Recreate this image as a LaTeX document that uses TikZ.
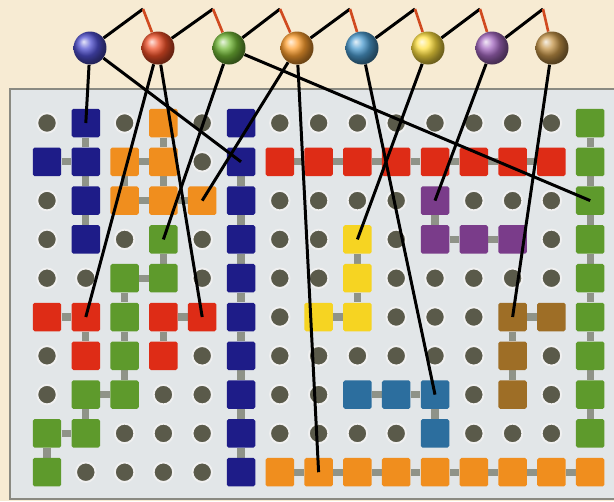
\documentclass[tikz,border=0pt]{standalone}
\usepackage{xcolor}
\usepackage{tikz}
\usetikzlibrary{calc}
\pgfdeclarelayer{bg}
\pgfdeclarelayer{front}
\pgfsetlayers{bg,main,front}

\definecolor{bgcream}{HTML}{F7EBD3}
\definecolor{panelgray}{HTML}{E2E6E8}
\definecolor{panelline}{HTML}{8A8A82}
\definecolor{dotgray}{HTML}{5A5A4A}
\definecolor{barcol}{HTML}{8F9388}
\definecolor{wirered}{HTML}{D04A20}
\definecolor{sqB}{HTML}{1E1C88}
\definecolor{sqO}{HTML}{F08E1E}
\definecolor{sqG}{HTML}{5E9A2C}
\definecolor{sqR}{HTML}{DE2C16}
\definecolor{sqY}{HTML}{F6D422}
\definecolor{sqP}{HTML}{7A3C8A}
\definecolor{sqT}{HTML}{2C6E9E}
\definecolor{sqW}{HTML}{9E6E26}

\begin{document}
\begin{tikzpicture}[
    x=0.02cm, y=-0.02cm,
    dot/.style={circle, fill=dotgray, draw=white!88!gray, line width=1.1pt, minimum size=0.39cm, inner sep=0pt},
    cell/.style={rounded corners=1pt, minimum size=0.57cm, inner sep=0pt},
    bar/.style={draw=barcol, line width=4pt},
    ball/.style={circle, minimum size=0.66cm, inner sep=0pt},
    wire/.style={draw=black, line width=1.7pt},
    link/.style={draw=wirered, line width=1.5pt},
]
\useasboundingbox (0,0) rectangle (614,501);

% Background and board
\begin{pgfonlayer}{bg}
\fill[bgcream] (0,0) rectangle (614,501);
\filldraw[fill=panelgray, draw=panelline, line width=1pt] (10,89) rectangle (620,499);
\end{pgfonlayer}

% Board cells (o = empty dot, letter = coloured square)
\foreach \row [count=\j from 0] in {
    {o,B,o,O,o,B,o,o,o,o,o,o,o,o,G},
    {B,B,O,O,o,B,R,R,R,R,R,R,R,R,G},
    {o,B,O,O,O,B,o,o,o,o,P,o,o,o,G},
    {o,B,o,G,o,B,o,o,Y,o,P,P,P,o,G},
    {o,o,G,G,o,B,o,o,Y,o,o,o,o,o,G},
    {R,R,G,R,R,B,o,Y,Y,o,o,o,W,W,G},
    {o,R,G,R,o,B,o,o,o,o,o,o,W,o,G},
    {o,G,G,o,o,B,o,o,T,T,T,o,W,o,G},
    {G,G,o,o,o,B,o,o,o,o,T,o,o,o,G},
    {G,o,o,o,o,B,O,O,O,O,O,O,O,O,O}} {
  \foreach \c [count=\i from 0] in \row {
    \if\c o
      \node[dot] (c-\i-\j) at ({47+38.8*\i},{123+38.8*\j}) {};
    \else
      \node[cell, fill=sq\c] (c-\i-\j) at ({47+38.8*\i},{123+38.8*\j}) {};
    \fi
  }
}

% Gray links between squares
\begin{pgfonlayer}{bg}
\foreach \a/\b in {1-0/1-1, 1-1/1-2, 1-2/1-3, 0-1/1-1,
    3-0/3-1, 2-1/3-1, 2-1/2-2, 3-1/3-2, 2-2/3-2, 3-2/4-2,
    3-3/3-4, 2-4/3-4, 2-4/2-5, 2-5/2-6, 2-6/2-7, 1-7/2-7, 1-7/1-8, 0-8/1-8, 0-8/0-9,
    0-5/1-5, 1-5/1-6, 3-5/4-5, 3-5/3-6,
    8-3/8-4, 8-4/8-5, 7-5/8-5,
    10-2/10-3, 10-3/11-3, 11-3/12-3,
    8-7/9-7, 9-7/10-7, 10-7/10-8,
    12-5/13-5, 12-5/12-6, 12-6/12-7}
  \draw[bar] (c-\a) -- (c-\b);
\foreach \j [evaluate=\j as \n using int(\j+1)] in {1,...,8}
  \draw[bar] (c-5-\j) -- (c-5-\n);
\foreach \j [evaluate=\j as \n using int(\j+1)] in {0,...,7}
  \draw[bar] (c-14-\j) -- (c-14-\n);
\foreach \i [evaluate=\i as \n using int(\i+1)] in {6,...,12}
  \draw[bar] (c-\i-1) -- (c-\n-1);
\foreach \i [evaluate=\i as \n using int(\i+1)] in {6,...,13}
  \draw[bar] (c-\i-9) -- (c-\n-9);
\end{pgfonlayer}

% Balls
\begin{pgfonlayer}{front}
\foreach \col/\xx [count=\k] in {5050D0/90, F05028/158, 74BA38/229, FFA030/297,
    4C9CD0/362, FFE040/428, A468C0/492, C49448/552} {
  \definecolor{ballc}{HTML}{\col}
  \node[ball, ball color=ballc] (b\k) at (\xx,48) {};
}
\end{pgfonlayer}

% Zigzag on top
\foreach \k/\xx in {1/143, 2/213, 3/280, 4/350, 5/415, 6/480, 7/543}
  \coordinate (pk\k) at (\xx,9);
\foreach \k [evaluate=\k as \n using int(\k+1)] in {1,...,7} {
  \draw[wire] (b\k) -- (pk\k);
  \draw[link] (pk\k) -- (b\n);
}

% Wires from balls to squares
\foreach \k/\t in {1/1-0, 1/5-1, 2/1-5, 2/4-5, 3/3-3, 3/14-2,
    4/4-2, 4/7-9, 5/10-7, 6/8-3, 7/10-2, 8/12-5}
  \draw[wire] (b\k) -- (c-\t.center);

\end{tikzpicture}
\end{document}
